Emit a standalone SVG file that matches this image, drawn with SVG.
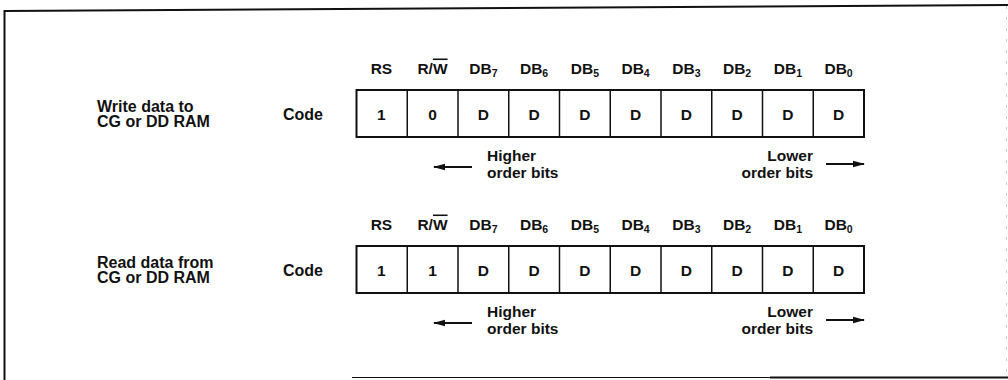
<svg xmlns="http://www.w3.org/2000/svg" width="1008" height="380" viewBox="0 0 1008 380">
<style>
.t{font-family:"Liberation Sans",Arial,sans-serif;font-weight:bold;font-size:15.5px;fill:#111}
.lbl{font-size:16px}
.h{text-anchor:middle}
.c{text-anchor:middle}
.r{text-anchor:end}
.sub{font-size:10.5px}
.box{fill:#fff;stroke:#111;stroke-width:2}
.div{stroke:#111;stroke-width:1.5}
.fr{stroke:#111;fill:none}
.arr{stroke:#111;stroke-width:2}
</style>
<defs>
<marker id="ah" viewBox="0 0 12 8" refX="11" refY="4" markerWidth="12" markerHeight="8" markerUnits="userSpaceOnUse" orient="auto">
<path d="M0,0.8 L12,4 L0,7.2 Z" fill="#111"/>
</marker>
<g id="hdr">
<text class="t h" x="381.4" y="73.5">RS</text>
<text class="t h" x="432.5" y="73.5">R/<tspan text-decoration="overline">W</tspan></text>
<text class="t h" x="483.4" y="73.5">DB<tspan class="sub" dy="3.5">7</tspan></text>
<text class="t h" x="534.1" y="73.5">DB<tspan class="sub" dy="3.5">6</tspan></text>
<text class="t h" x="584.9" y="73.5">DB<tspan class="sub" dy="3.5">5</tspan></text>
<text class="t h" x="635.6" y="73.5">DB<tspan class="sub" dy="3.5">4</tspan></text>
<text class="t h" x="686.4" y="73.5">DB<tspan class="sub" dy="3.5">3</tspan></text>
<text class="t h" x="737.1" y="73.5">DB<tspan class="sub" dy="3.5">2</tspan></text>
<text class="t h" x="787.9" y="73.5">DB<tspan class="sub" dy="3.5">1</tspan></text>
<text class="t h" x="838.6" y="73.5">DB<tspan class="sub" dy="3.5">0</tspan></text>
</g>
<g id="grid">
<rect class="box" x="356.5" y="90" width="507.5" height="47"/>
<line class="div" x1="407.25" y1="90" x2="407.25" y2="137"/>
<line class="div" x1="458" y1="90" x2="458" y2="137"/>
<line class="div" x1="508.75" y1="90" x2="508.75" y2="137"/>
<line class="div" x1="559.5" y1="90" x2="559.5" y2="137"/>
<line class="div" x1="610.25" y1="90" x2="610.25" y2="137"/>
<line class="div" x1="661" y1="90" x2="661" y2="137"/>
<line class="div" x1="711.75" y1="90" x2="711.75" y2="137"/>
<line class="div" x1="762.5" y1="90" x2="762.5" y2="137"/>
<line class="div" x1="813.25" y1="90" x2="813.25" y2="137"/>
</g>
<g id="dvals">
<text class="t c" x="483.4" y="120">D</text>
<text class="t c" x="534.1" y="120">D</text>
<text class="t c" x="584.9" y="120">D</text>
<text class="t c" x="635.6" y="120">D</text>
<text class="t c" x="686.4" y="120">D</text>
<text class="t c" x="737.1" y="120">D</text>
<text class="t c" x="787.9" y="120">D</text>
<text class="t c" x="838.6" y="120">D</text>
</g>
<g id="notes">
<text class="t" x="487" y="161">Higher<tspan x="487" dy="17">order bits</tspan></text>
<text class="t r" x="813" y="161">Lower<tspan x="813" dy="17">order bits</tspan></text>
</g>
</defs>

<g id="frame">
<line class="fr" stroke-width="2" x1="4" y1="11" x2="1008" y2="5"/>
<line class="fr" stroke-width="2" x1="4.5" y1="10" x2="4.5" y2="380"/>
<line class="fr" stroke-width="1.2" x1="352" y1="377.5" x2="770" y2="377.5"/>
<line class="fr" stroke-width="2.2" x1="770" y1="377.5" x2="1008" y2="377.5"/>
<line stroke="#ccc" stroke-width="1" stroke-dasharray="3 8" x1="1006.5" y1="6" x2="1006.5" y2="377"/>
</g>

<g id="node-write">
<text class="t lbl" x="97" y="112">Write data to<tspan x="97" dy="15">CG or DD RAM</tspan></text>
<text class="t lbl" x="283" y="120">Code</text>
<use href="#hdr"/>
<use href="#grid"/>
<text class="t c" x="381.4" y="120">1</text>
<text class="t c" x="432.6" y="120">0</text>
<use href="#dvals"/>
<use href="#notes"/>
</g>

<g id="node-read">
<text class="t lbl" x="97" y="268">Read data from<tspan x="97" dy="15">CG or DD RAM</tspan></text>
<text class="t lbl" x="283" y="276">Code</text>
<use href="#hdr" y="156"/>
<use href="#grid" y="156"/>
<text class="t c" x="381.4" y="276">1</text>
<text class="t c" x="432.6" y="276">1</text>
<use href="#dvals" y="156"/>
<use href="#notes" y="156"/>
</g>

<g id="connectors">
<line class="arr" x1="472" y1="167" x2="434" y2="167" marker-end="url(#ah)"/>
<line class="arr" x1="826" y1="164" x2="864" y2="164" marker-end="url(#ah)"/>
<line class="arr" x1="472" y1="323" x2="434" y2="323" marker-end="url(#ah)"/>
<line class="arr" x1="826" y1="320" x2="864" y2="320" marker-end="url(#ah)"/>
</g>
</svg>
